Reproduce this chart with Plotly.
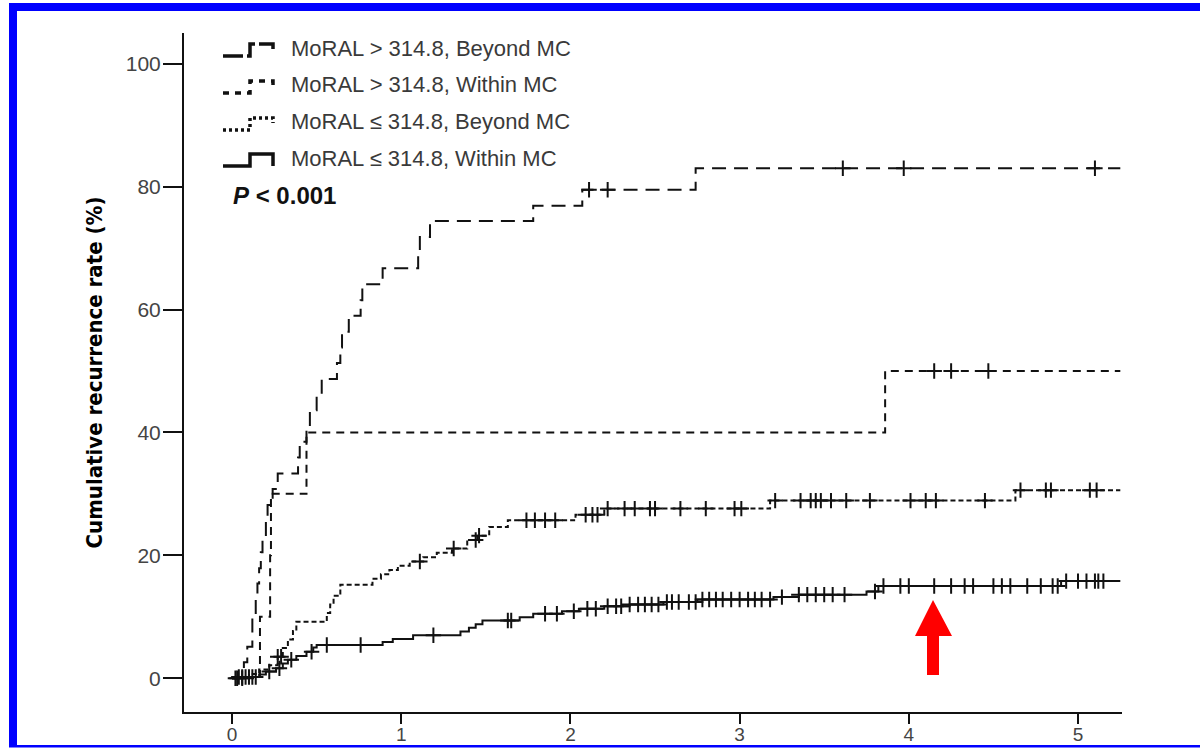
import numpy as np
import plotly.graph_objects as go

# ---------------- data ----------------
x_ticks = [0, 1, 2, 3, 4, 5]
y_ticks = [0, 20, 40, 60, 80, 100]

series_names = [
    "MoRAL > 314.8, Beyond MC",
    "MoRAL > 314.8, Within MC",
    "MoRAL \u2264 314.8, Beyond MC",
    "MoRAL \u2264 314.8, Within MC",
]

# MoRAL > 314.8, Beyond MC : event times (years) and cumulative recurrence (%)
t_hi_beyond = [0, 0.07, 0.09, 0.12, 0.14, 0.15, 0.16, 0.17, 0.18, 0.20, 0.21, 0.24, 0.27,
               0.39, 0.40, 0.44, 0.46, 0.50, 0.53, 0.62, 0.64, 0.65, 0.69, 0.76, 0.77,
               0.89, 1.10, 1.11, 1.17, 1.78, 2.07, 2.74]
v_hi_beyond = [0, 2.6, 5.1, 10.3, 12.8, 15.4, 17.9, 20.5, 23.1, 25.6, 28.2, 30.8, 33.3,
               35.9, 38.5, 41.0, 43.6, 46.2, 48.7, 51.3, 53.8, 56.4, 59.0, 61.5, 64.1,
               66.7, 69.2, 71.8, 74.4, 76.9, 79.5, 83.0]
c_hi_beyond = [2.11, 2.22, 3.61, 3.97, 5.10]
end_hi_beyond = 5.25

# MoRAL > 314.8, Within MC
t_hi_within = [0, 0.165, 0.225, 0.23, 0.44, 3.86]
v_hi_within = [0, 10, 20, 30, 40, 50]
c_hi_within = [4.15, 4.25, 4.47]
end_hi_within = 5.25

# MoRAL <= 314.8, Beyond MC
t_lo_beyond = [0, 0.10, 0.16, 0.22, 0.27, 0.30, 0.33, 0.36, 0.38, 0.56, 0.58, 0.60, 0.64,
               0.83, 0.88, 0.93, 0.98, 1.05, 1.13, 1.21, 1.30, 1.39, 1.45, 1.52, 1.63,
               2.03, 2.20, 3.18, 4.63]
v_lo_beyond = [0, 0.7, 1.4, 2.1, 3.5, 4.9, 6.3, 7.7, 9.2, 10.6, 12.0, 13.4, 15.2,
               16.2, 16.9, 17.6, 18.3, 19.0, 19.7, 20.4, 21.1, 22.5, 23.2, 24.6, 25.7,
               26.6, 27.6, 28.9, 30.6]
c_lo_beyond = [0.03, 0.06, 0.27, 0.29, 1.11, 1.31, 1.44, 1.46, 1.74, 1.79, 1.85, 1.91,
               2.09, 2.13, 2.16, 2.22, 2.32, 2.38, 2.47, 2.50, 2.65, 2.80, 2.97, 3.01,
               3.21, 3.36, 3.42, 3.45, 3.48, 3.54, 3.63, 3.77, 4.01, 4.10, 4.16, 4.45,
               4.66, 4.81, 4.84, 5.07, 5.11]
end_lo_beyond = 5.25

# MoRAL <= 314.8, Within MC
t_lo_within = [0, 0.03, 0.16, 0.20, 0.26, 0.30, 0.33, 0.38, 0.44, 0.48, 0.50, 0.89, 0.95,
               1.07, 1.35, 1.40, 1.44, 1.48, 1.70, 1.78, 1.95, 2.05, 2.20, 2.35, 2.55,
               2.75, 3.20, 3.35, 3.75, 3.82, 4.90]
v_lo_within = [0, 0.2, 0.6, 1.1, 1.6, 2.4, 3.0, 3.6, 4.3, 5.0, 5.4, 5.9, 6.4,
               7.0, 7.6, 8.2, 8.8, 9.4, 9.9, 10.5, 10.9, 11.3, 11.7, 12.0, 12.4,
               12.8, 13.2, 13.6, 14.1, 15.0, 15.8]
c_lo_within = [0.02, 0.04, 0.06, 0.08, 0.10, 0.12, 0.14, 0.22, 0.28, 0.35, 0.47, 0.56,
               0.76, 1.19, 1.63, 1.65, 1.85, 1.92, 2.02, 2.10, 2.15, 2.22, 2.27, 2.30,
               2.35, 2.40, 2.44, 2.48, 2.52, 2.57, 2.60, 2.64, 2.70, 2.74, 2.78, 2.82,
               2.86, 2.90, 2.95, 3.00, 3.05, 3.09, 3.13, 3.18, 3.25, 3.35, 3.40, 3.45,
               3.50, 3.55, 3.62, 3.80, 3.85, 3.95, 4.00, 4.15, 4.25, 4.33, 4.38, 4.50,
               4.55, 4.60, 4.70, 4.78, 4.85, 4.88, 4.93, 5.00, 5.05, 5.10, 5.12, 5.15]
end_lo_within = 5.25

p_text = "<b><i>P</i> &lt; 0.001</b>"
y_title = "Cumulative recurrence rate (%)"

# ---------------- figure ----------------
W, H = 1200, 748
L, R, T, B = 184, 1122, 33, 712          # plot-area pixel box
def px(x):
    return (x - L) / (R - L)
def py(y):
    return (B - y) / (B - T)

INK = "#111111"
FONT = "Liberation Sans, Arial, Helvetica, sans-serif"
dashes = ["14px,8px", "8px,6px", "5px,3px", "solid"]
leg_dashes = ["20px,4px", "6px,6px", "3px,3px", "solid"]

curves = [
    (t_hi_beyond, v_hi_beyond, c_hi_beyond, end_hi_beyond),
    (t_hi_within, v_hi_within, c_hi_within, end_hi_within),
    (t_lo_beyond, v_lo_beyond, c_lo_beyond, end_lo_beyond),
    (t_lo_within, v_lo_within, c_lo_within, end_lo_within),
]

fig = go.Figure()
for name, dash, (t, v, c, end) in zip(series_names, dashes, curves):
    tx = list(t) + [end]
    vy = list(v) + [v[-1]]
    fig.add_trace(go.Scatter(
        x=tx, y=vy, mode="lines", line=dict(shape="hv", color=INK, width=2, dash=dash),
        name=name, showlegend=False, hoverinfo="skip"))
    idx = np.searchsorted(np.asarray(t), np.asarray(c), side="right") - 1
    cy = np.asarray(v)[idx]
    fig.add_trace(go.Scatter(
        x=c, y=cy, mode="markers",
        marker=dict(symbol="cross-thin", size=11, line=dict(width=2, color=INK), color=INK),
        showlegend=False, hoverinfo="skip", name=name + " censored"))

shapes = []
# blue frame
BLUE = "#0000ff"
shapes.append(dict(type="rect", xref="paper", yref="paper", x0=px(9), x1=px(1200), y0=py(11), y1=py(3),
                   fillcolor=BLUE, line=dict(width=0), layer="above"))
shapes.append(dict(type="rect", xref="paper", yref="paper", x0=px(9), x1=px(17), y0=py(747), y1=py(3),
                   fillcolor=BLUE, line=dict(width=0), layer="above"))
shapes.append(dict(type="rect", xref="paper", yref="paper", x0=px(9), x1=px(1200), y0=py(747.5), y1=py(745),
                   fillcolor=BLUE, line=dict(width=0), layer="above"))

# legend glyphs (step shapes) + text
leg_y = [48, 85, 122, 158]
annotations = []
for i, (name, dash) in enumerate(zip(series_names, leg_dashes)):
    yc = leg_y[i]
    lo, hi = yc + 8, yc - 4
    path = (f"M {px(223)},{py(lo)} L {px(250)},{py(lo)} L {px(250)},{py(hi)} "
            f"L {px(273)},{py(hi)} L {px(273)},{py(hi + (12 if i == 3 else 5))}")
    shapes.append(dict(type="path", xref="paper", yref="paper", path=path,
                       line=dict(color=INK, width=3.5, dash=dash)))
    annotations.append(dict(xref="paper", yref="paper", x=px(289), y=py(yc), xanchor="left",
                            yanchor="middle", text=name, showarrow=False,
                            font=dict(family=FONT, size=22, color="#3a3a3a")))

annotations.append(dict(xref="paper", yref="paper", x=px(231), y=py(195), xanchor="left", yanchor="middle",
                        text=p_text, showarrow=False,
                        font=dict(family=FONT, size=24, color="#111111")))

# red arrow
arrow = [(927, 675), (939, 675), (939, 636), (952, 636), (933, 600), (915, 636), (927, 636)]
path = "M " + " L ".join(f"{px(a)},{py(b)}" for a, b in arrow) + " Z"
shapes.append(dict(type="path", xref="paper", yref="paper", path=path, fillcolor="#ff0000",
                   line=dict(width=0), layer="above"))

# initial size fits inside the default 8px body margin; resized after margins are removed
fig.update_layout(
    width=W - 16, height=H - 16, autosize=False,
    margin=dict(l=L, r=W - R, t=T, b=H - B, pad=0, autoexpand=False),
    paper_bgcolor="white", plot_bgcolor="white",
    shapes=shapes, annotations=annotations, showlegend=False,
    xaxis=dict(range=[-0.284, 5.26], tickvals=x_ticks, ticktext=[str(v) for v in x_ticks],
               automargin=False,
               showgrid=False, zeroline=False, showline=True, linecolor=INK, linewidth=2,
               ticks="outside", ticklen=10, tickwidth=2, tickcolor=INK, ticklabelstandoff=-6,
               tickfont=dict(family=FONT, size=19, color="#444444")),
    yaxis=dict(range=[-5.5, 105], tickvals=y_ticks, ticktext=[str(v) for v in y_ticks],
               automargin=False,
               showgrid=False, zeroline=False, showline=True, linecolor=INK, linewidth=2,
               ticks="outside", ticklen=19, tickwidth=2, tickcolor=INK, ticklabelstandoff=-2,
               tickfont=dict(family=FONT, size=21, color="#444444"),
               title=dict(text=y_title, standoff=17,
                          font=dict(family="Liberation Sans Narrow, DejaVu Sans Condensed, Liberation Sans, Arial",
                                    size=22, color="#000000", weight="bold"))),
)

post = (
    "document.documentElement.style.margin='0';"
    "document.body.style.margin='0';"
    "document.body.style.overflow='hidden';"
    "var gd=document.getElementById('{plot_id}');"
    "gd.style.width='%dpx';gd.style.height='%dpx';"
    "Plotly.relayout(gd,{width:%d,height:%d});" % (W, H, W, H)
)

fig.write_html("out.html", config={"displayModeBar": False}, post_script=post)
